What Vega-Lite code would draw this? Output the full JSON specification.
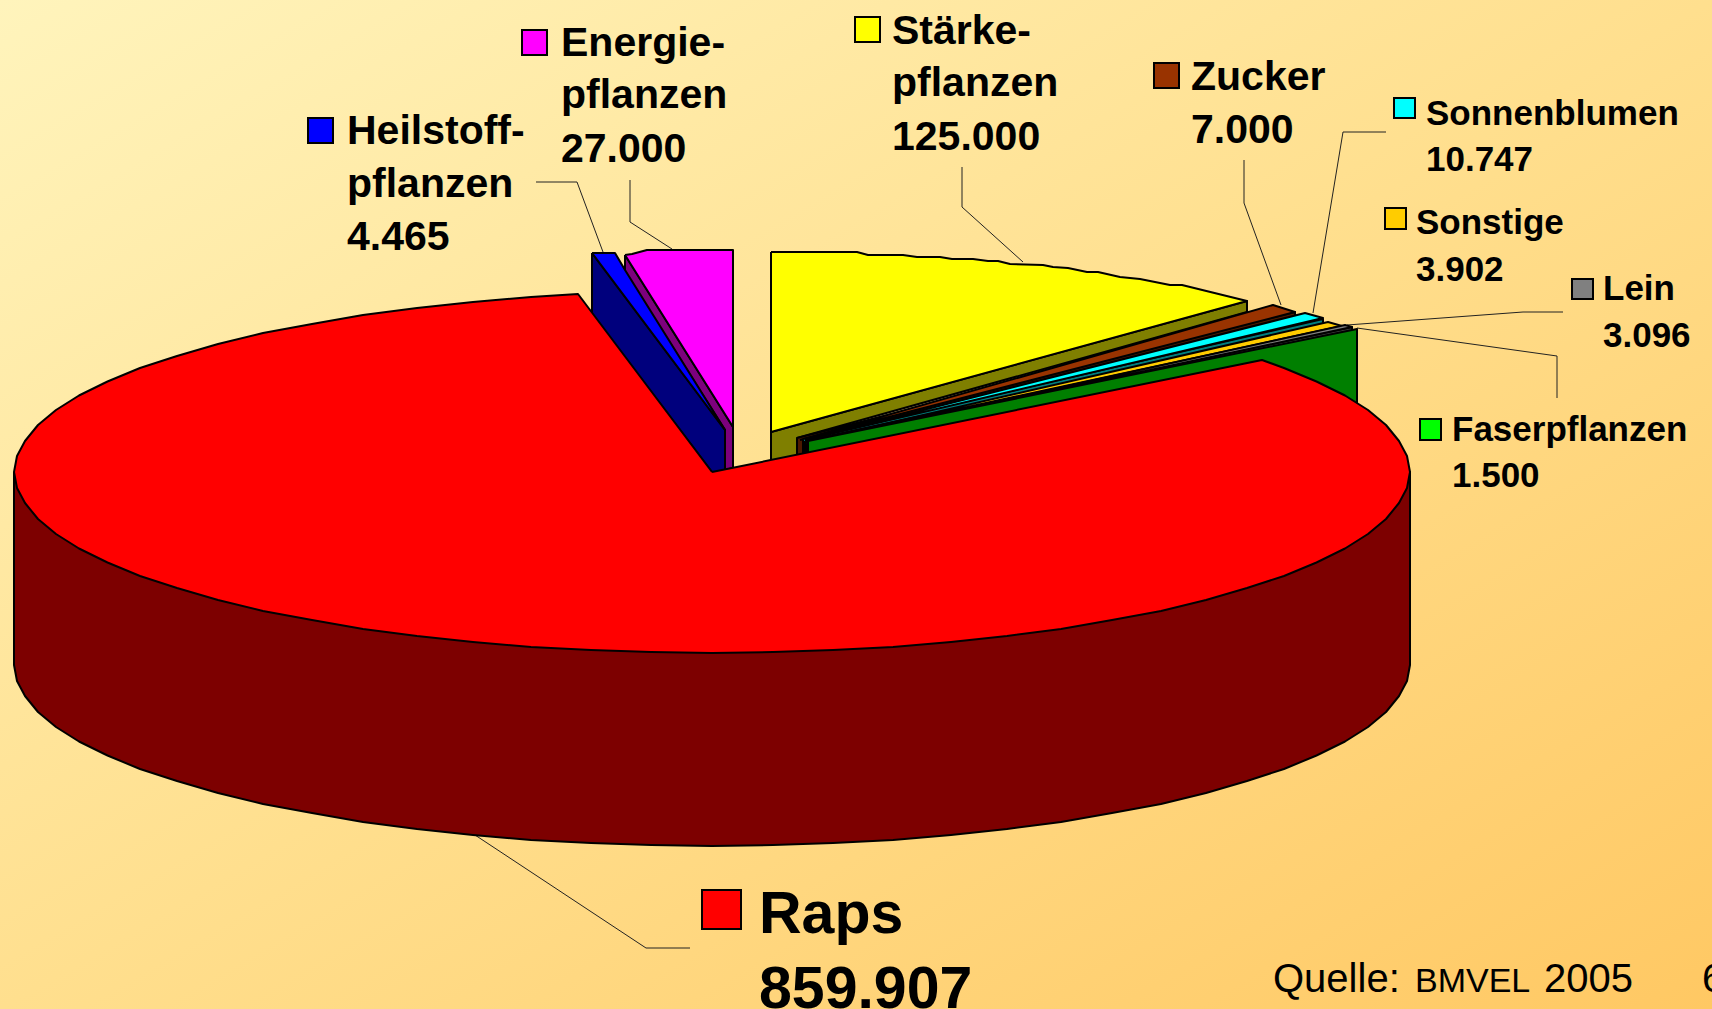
{"$schema":"https://vega.github.io/schema/vega-lite/v6.json","width":1712,"height":1009,"padding":0,"autosize":{"type":"none"},
"datasets":{
"frame":[{"x":0,"x2":1712,"y":0,"y2":1009}],
"keys":[
{"slice":"Raps","value":859907,"x":702,"x2":741,"y":890,"y2":929},
{"slice":"Heilstoffpflanzen","value":4465,"x":308,"x2":333,"y":118,"y2":143},
{"slice":"Energiepflanzen","value":27000,"x":522,"x2":547,"y":30,"y2":55},
{"slice":"Stärkepflanzen","value":125000,"x":855,"x2":880,"y":17,"y2":42},
{"slice":"Zucker","value":7000,"x":1154,"x2":1179,"y":63,"y2":88},
{"slice":"Sonnenblumen","value":10747,"x":1394,"x2":1415,"y":98,"y2":118},
{"slice":"Sonstige","value":3902,"x":1385,"x2":1406,"y":208,"y2":229},
{"slice":"Lein","value":3096,"x":1572,"x2":1593,"y":279,"y2":299},
{"slice":"Faserpflanzen","value":1500,"x":1420,"x2":1441,"y":419,"y2":440}],
"labels":[
{"tier":"big","text":"Raps","x":759,"y":933},{"tier":"big","text":"859.907","x":759,"y":1008},
{"tier":"mid","text":"Heilstoff-","x":347,"y":144},{"tier":"mid","text":"pflanzen","x":347,"y":197},{"tier":"mid","text":"4.465","x":347,"y":250},
{"tier":"mid","text":"Energie-","x":561,"y":56},{"tier":"mid","text":"pflanzen","x":561,"y":108},{"tier":"mid","text":"27.000","x":561,"y":162},
{"tier":"mid","text":"Stärke-","x":892,"y":44},{"tier":"mid","text":"pflanzen","x":892,"y":96},{"tier":"mid","text":"125.000","x":892,"y":150},
{"tier":"mid","text":"Zucker","x":1191,"y":90},{"tier":"mid","text":"7.000","x":1191,"y":143},
{"tier":"small","text":"Sonnenblumen","x":1426,"y":125},{"tier":"small","text":"10.747","x":1426,"y":171},
{"tier":"small","text":"Sonstige","x":1416,"y":234},{"tier":"small","text":"3.902","x":1416,"y":281},
{"tier":"small","text":"Lein","x":1603,"y":300},{"tier":"small","text":"3.096","x":1603,"y":347},
{"tier":"small","text":"Faserpflanzen","x":1452,"y":441},{"tier":"small","text":"1.500","x":1452,"y":487},
{"tier":"src","text":"Quelle:","x":1273,"y":992},{"tier":"srcs","text":"BMVEL","x":1415,"y":992},{"tier":"src","text":"2005","x":1544,"y":992},{"tier":"src","text":"6","x":1702,"y":992}],
"leaders":[
{"l":"Heil","n":1,"x":536,"y":182},{"l":"Heil","n":2,"x":577,"y":182},{"l":"Heil","n":3,"x":603,"y":252},
{"l":"Ener","n":1,"x":630,"y":180},{"l":"Ener","n":2,"x":630,"y":222},{"l":"Ener","n":3,"x":672,"y":249},
{"l":"Staerke","n":1,"x":962,"y":167},{"l":"Staerke","n":2,"x":962,"y":207},{"l":"Staerke","n":3,"x":1023,"y":262},
{"l":"Zucker","n":1,"x":1244,"y":160},{"l":"Zucker","n":2,"x":1244,"y":203},{"l":"Zucker","n":3,"x":1281,"y":305},
{"l":"Sonne","n":1,"x":1386,"y":132},{"l":"Sonne","n":2,"x":1343,"y":132},{"l":"Sonne","n":3,"x":1313,"y":313},
{"l":"Lein","n":1,"x":1563,"y":312},{"l":"Lein","n":2,"x":1523,"y":312},{"l":"Lein","n":3,"x":1347,"y":325},
{"l":"Faser","n":1,"x":1557,"y":398},{"l":"Faser","n":2,"x":1557,"y":356},{"l":"Faser","n":3,"x":1357,"y":328},
{"l":"Raps","n":1,"x":475,"y":835},{"l":"Raps","n":2,"x":646,"y":948},{"l":"Raps","n":3,"x":690,"y":948}],
"faces":[
{"part":"Energiepflanzen Wand","n":1,"x":625,"y":255},{"part":"Energiepflanzen Wand","n":2,"x":733,"y":427},{"part":"Energiepflanzen Wand","n":3,"x":733,"y":468},{"part":"Energiepflanzen Wand","n":4,"x":725,"y":470},{"part":"Energiepflanzen Wand","n":5,"x":725,"y":430},{"part":"Energiepflanzen Wand","n":6,"x":625,"y":272},{"part":"Energiepflanzen Wand","n":7,"x":625,"y":255},
{"part":"Energiepflanzen","n":1,"x":625,"y":255},{"part":"Energiepflanzen","n":2,"x":632,"y":254},{"part":"Energiepflanzen","n":3,"x":647,"y":250},{"part":"Energiepflanzen","n":4,"x":733,"y":250},{"part":"Energiepflanzen","n":5,"x":733,"y":427},{"part":"Energiepflanzen","n":6,"x":625,"y":255},
{"part":"Heilstoffpflanzen Wand","n":1,"x":592,"y":253},{"part":"Heilstoffpflanzen Wand","n":2,"x":725,"y":430},{"part":"Heilstoffpflanzen Wand","n":3,"x":725,"y":475},{"part":"Heilstoffpflanzen Wand","n":4,"x":712,"y":472},{"part":"Heilstoffpflanzen Wand","n":5,"x":592,"y":314},{"part":"Heilstoffpflanzen Wand","n":6,"x":592,"y":253},
{"part":"Heilstoffpflanzen","n":1,"x":592,"y":253},{"part":"Heilstoffpflanzen","n":2,"x":615,"y":253},{"part":"Heilstoffpflanzen","n":3,"x":625,"y":270},{"part":"Heilstoffpflanzen","n":4,"x":725,"y":430},{"part":"Heilstoffpflanzen","n":5,"x":592,"y":253},
{"part":"Stärkepflanzen Wand","n":1,"x":771,"y":432},{"part":"Stärkepflanzen Wand","n":2,"x":1247,"y":301},{"part":"Stärkepflanzen Wand","n":3,"x":1247,"y":312},{"part":"Stärkepflanzen Wand","n":4,"x":797,"y":438},{"part":"Stärkepflanzen Wand","n":5,"x":797,"y":458},{"part":"Stärkepflanzen Wand","n":6,"x":771,"y":462},{"part":"Stärkepflanzen Wand","n":7,"x":771,"y":432},
{"part":"Stärkepflanzen","n":1,"x":771,"y":252},{"part":"Stärkepflanzen","n":2,"x":857,"y":252},{"part":"Stärkepflanzen","n":3,"x":868,"y":255},{"part":"Stärkepflanzen","n":4,"x":903,"y":255},{"part":"Stärkepflanzen","n":5,"x":917,"y":257},{"part":"Stärkepflanzen","n":6,"x":940,"y":257},{"part":"Stärkepflanzen","n":7,"x":952,"y":259},{"part":"Stärkepflanzen","n":8,"x":973,"y":259},{"part":"Stärkepflanzen","n":9,"x":988,"y":261},{"part":"Stärkepflanzen","n":10,"x":998,"y":261},{"part":"Stärkepflanzen","n":11,"x":1010,"y":264},{"part":"Stärkepflanzen","n":12,"x":1043,"y":265},{"part":"Stärkepflanzen","n":13,"x":1053,"y":267},{"part":"Stärkepflanzen","n":14,"x":1068,"y":268},{"part":"Stärkepflanzen","n":15,"x":1087,"y":272},{"part":"Stärkepflanzen","n":16,"x":1098,"y":272},{"part":"Stärkepflanzen","n":17,"x":1120,"y":277},{"part":"Stärkepflanzen","n":18,"x":1140,"y":279},{"part":"Stärkepflanzen","n":19,"x":1170,"y":285},{"part":"Stärkepflanzen","n":20,"x":1182,"y":285},{"part":"Stärkepflanzen","n":21,"x":1247,"y":301},{"part":"Stärkepflanzen","n":22,"x":771,"y":432},{"part":"Stärkepflanzen","n":23,"x":771,"y":252},
{"part":"Zucker Wand","n":1,"x":797,"y":438},{"part":"Zucker Wand","n":2,"x":1295,"y":312},{"part":"Zucker Wand","n":3,"x":1295,"y":322},{"part":"Zucker Wand","n":4,"x":800,"y":456},{"part":"Zucker Wand","n":5,"x":797,"y":456},{"part":"Zucker Wand","n":6,"x":797,"y":438},
{"part":"Zucker","n":1,"x":800,"y":440},{"part":"Zucker","n":2,"x":1273,"y":305},{"part":"Zucker","n":3,"x":1295,"y":312},{"part":"Zucker","n":4,"x":800,"y":440},
{"part":"Sonnenblumen Wand","n":1,"x":803,"y":439},{"part":"Sonnenblumen Wand","n":2,"x":1323,"y":319},{"part":"Sonnenblumen Wand","n":3,"x":1323,"y":325},{"part":"Sonnenblumen Wand","n":4,"x":803,"y":456},{"part":"Sonnenblumen Wand","n":5,"x":803,"y":439},
{"part":"Sonnenblumen","n":1,"x":805,"y":440},{"part":"Sonnenblumen","n":2,"x":1305,"y":313},{"part":"Sonnenblumen","n":3,"x":1323,"y":318},{"part":"Sonnenblumen","n":4,"x":805,"y":440},
{"part":"Sonstige Wand","n":1,"x":805,"y":441},{"part":"Sonstige Wand","n":2,"x":1342,"y":326},{"part":"Sonstige Wand","n":3,"x":1342,"y":330},{"part":"Sonstige Wand","n":4,"x":805,"y":456},{"part":"Sonstige Wand","n":5,"x":805,"y":441},
{"part":"Sonstige","n":1,"x":806,"y":442},{"part":"Sonstige","n":2,"x":1328,"y":322},{"part":"Sonstige","n":3,"x":1342,"y":326},{"part":"Sonstige","n":4,"x":806,"y":442},
{"part":"Lein Wand","n":1,"x":806,"y":443},{"part":"Lein Wand","n":2,"x":1352,"y":327},{"part":"Lein Wand","n":3,"x":1352,"y":331},{"part":"Lein Wand","n":4,"x":806,"y":456},{"part":"Lein Wand","n":5,"x":806,"y":443},
{"part":"Lein","n":1,"x":807,"y":443},{"part":"Lein","n":2,"x":1345,"y":325},{"part":"Lein","n":3,"x":1352,"y":327},{"part":"Lein","n":4,"x":807,"y":443},
{"part":"Faserpflanzen Wand","n":1,"x":808,"y":441},{"part":"Faserpflanzen Wand","n":2,"x":1357,"y":329},{"part":"Faserpflanzen Wand","n":3,"x":1357,"y":420},{"part":"Faserpflanzen Wand","n":4,"x":808,"y":470},{"part":"Faserpflanzen Wand","n":5,"x":808,"y":441},
{"part":"Raps Wand","n":1,"x":14,"y":472},{"part":"Raps Wand","n":2,"x":14,"y":665},{"part":"Raps Wand","n":3,"x":17,"y":681},{"part":"Raps Wand","n":4,"x":25,"y":696},{"part":"Raps Wand","n":5,"x":38,"y":712},{"part":"Raps Wand","n":6,"x":56,"y":727},{"part":"Raps Wand","n":7,"x":79,"y":741.5},{"part":"Raps Wand","n":8,"x":107.5,"y":755.5},{"part":"Raps Wand","n":9,"x":140,"y":769},{"part":"Raps Wand","n":10,"x":177,"y":781},{"part":"Raps Wand","n":11,"x":218,"y":793},{"part":"Raps Wand","n":12,"x":263,"y":804},{"part":"Raps Wand","n":13,"x":312,"y":813},{"part":"Raps Wand","n":14,"x":363,"y":822},{"part":"Raps Wand","n":15,"x":417,"y":829},{"part":"Raps Wand","n":16,"x":473,"y":835},{"part":"Raps Wand","n":17,"x":531,"y":840},{"part":"Raps Wand","n":18,"x":591,"y":843},{"part":"Raps Wand","n":19,"x":651,"y":845},{"part":"Raps Wand","n":20,"x":712,"y":846},{"part":"Raps Wand","n":21,"x":773,"y":845},{"part":"Raps Wand","n":22,"x":833,"y":843},{"part":"Raps Wand","n":23,"x":893,"y":840},{"part":"Raps Wand","n":24,"x":951,"y":835},{"part":"Raps Wand","n":25,"x":1007,"y":829},{"part":"Raps Wand","n":26,"x":1061,"y":822},{"part":"Raps Wand","n":27,"x":1112,"y":813},{"part":"Raps Wand","n":28,"x":1161,"y":804},{"part":"Raps Wand","n":29,"x":1206,"y":793},{"part":"Raps Wand","n":30,"x":1247,"y":781},{"part":"Raps Wand","n":31,"x":1284,"y":769},{"part":"Raps Wand","n":32,"x":1316.5,"y":755.5},{"part":"Raps Wand","n":33,"x":1345,"y":741.5},{"part":"Raps Wand","n":34,"x":1368,"y":727},{"part":"Raps Wand","n":35,"x":1386,"y":712},{"part":"Raps Wand","n":36,"x":1399,"y":696},{"part":"Raps Wand","n":37,"x":1407,"y":681},{"part":"Raps Wand","n":38,"x":1410,"y":665},{"part":"Raps Wand","n":39,"x":1410,"y":472},{"part":"Raps Wand","n":40,"x":14,"y":472},
{"part":"Raps","n":1,"x":712,"y":472},{"part":"Raps","n":2,"x":1262,"y":360},{"part":"Raps","n":3,"x":1284,"y":368},{"part":"Raps","n":4,"x":1316.5,"y":381.5},{"part":"Raps","n":5,"x":1345,"y":395.5},{"part":"Raps","n":6,"x":1368,"y":410},{"part":"Raps","n":7,"x":1386,"y":425},{"part":"Raps","n":8,"x":1399,"y":441},{"part":"Raps","n":9,"x":1407,"y":456},{"part":"Raps","n":10,"x":1410,"y":472},{"part":"Raps","n":11,"x":1407,"y":488},{"part":"Raps","n":12,"x":1399,"y":503},{"part":"Raps","n":13,"x":1386,"y":519},{"part":"Raps","n":14,"x":1368,"y":534},{"part":"Raps","n":15,"x":1345,"y":548.5},{"part":"Raps","n":16,"x":1316.5,"y":562.5},{"part":"Raps","n":17,"x":1284,"y":576},{"part":"Raps","n":18,"x":1247,"y":588},{"part":"Raps","n":19,"x":1206,"y":600},{"part":"Raps","n":20,"x":1161,"y":611},{"part":"Raps","n":21,"x":1112,"y":620},{"part":"Raps","n":22,"x":1061,"y":629},{"part":"Raps","n":23,"x":1007,"y":636},{"part":"Raps","n":24,"x":951,"y":642},{"part":"Raps","n":25,"x":893,"y":647},{"part":"Raps","n":26,"x":833,"y":650},{"part":"Raps","n":27,"x":773,"y":652},{"part":"Raps","n":28,"x":712,"y":653},{"part":"Raps","n":29,"x":651,"y":652},{"part":"Raps","n":30,"x":591,"y":650},{"part":"Raps","n":31,"x":531,"y":647},{"part":"Raps","n":32,"x":473,"y":642},{"part":"Raps","n":33,"x":417,"y":636},{"part":"Raps","n":34,"x":363,"y":629},{"part":"Raps","n":35,"x":312,"y":620},{"part":"Raps","n":36,"x":263,"y":611},{"part":"Raps","n":37,"x":218,"y":600},{"part":"Raps","n":38,"x":177,"y":588},{"part":"Raps","n":39,"x":140,"y":576},{"part":"Raps","n":40,"x":107.5,"y":562.5},{"part":"Raps","n":41,"x":79,"y":548.5},{"part":"Raps","n":42,"x":56,"y":534},{"part":"Raps","n":43,"x":38,"y":519},{"part":"Raps","n":44,"x":25,"y":503},{"part":"Raps","n":45,"x":17,"y":488},{"part":"Raps","n":46,"x":14,"y":472},{"part":"Raps","n":47,"x":17,"y":456},{"part":"Raps","n":48,"x":25,"y":441},{"part":"Raps","n":49,"x":38,"y":425},{"part":"Raps","n":50,"x":56,"y":410},{"part":"Raps","n":51,"x":79,"y":395.5},{"part":"Raps","n":52,"x":107.5,"y":381.5},{"part":"Raps","n":53,"x":140,"y":368},{"part":"Raps","n":54,"x":177,"y":356},{"part":"Raps","n":55,"x":218,"y":344},{"part":"Raps","n":56,"x":263,"y":333},{"part":"Raps","n":57,"x":312,"y":324},{"part":"Raps","n":58,"x":363,"y":315},{"part":"Raps","n":59,"x":417,"y":308},{"part":"Raps","n":60,"x":473,"y":302},{"part":"Raps","n":61,"x":531,"y":297},{"part":"Raps","n":62,"x":578,"y":294},{"part":"Raps","n":63,"x":712,"y":472}
]},
"resolve":{"scale":{"fill":"shared"}},
"layer":[
{"data":{"name":"frame"},"mark":{"type":"rect","fill":{"gradient":"linear","x1":0,"y1":0,"x2":1,"y2":1,"stops":[{"offset":0,"color":"#FFF4BC"},{"offset":0.5,"color":"#FFDF8E"},{"offset":1,"color":"#FFC863"}]}},
"encoding":{"x":{"field":"x","type":"quantitative","axis":null,"scale":{"domain":[0,1712],"range":[0,1712],"nice":false}},"x2":{"field":"x2"},"y":{"field":"y","type":"quantitative","axis":null,"scale":{"domain":[0,1009],"range":[0,1009],"nice":false}},"y2":{"field":"y2"}}},
{"data":{"name":"leaders"},"mark":{"type":"line","stroke":"#222222","strokeWidth":1},
"encoding":{"x":{"field":"x","type":"quantitative"},"y":{"field":"y","type":"quantitative"},"detail":{"field":"l"},"order":{"field":"n","type":"quantitative"}}},
{"data":{"name":"faces"},"mark":{"type":"line","stroke":"black","strokeWidth":2,"strokeJoin":"round"},
"encoding":{"x":{"field":"x","type":"quantitative"},"y":{"field":"y","type":"quantitative"},"detail":{"field":"part"},"order":{"field":"n","type":"quantitative"},
"fill":{"field":"part","type":"nominal","legend":null,"scale":{"domain":["Raps","Raps Wand","Heilstoffpflanzen","Heilstoffpflanzen Wand","Energiepflanzen","Energiepflanzen Wand","Stärkepflanzen","Stärkepflanzen Wand","Zucker","Zucker Wand","Sonnenblumen","Sonnenblumen Wand","Sonstige","Sonstige Wand","Lein","Lein Wand","Faserpflanzen","Faserpflanzen Wand"],"range":["#FF0000","#7D0000","#0000FF","#00007D","#FF00FF","#7D007D","#FFFF00","#7F7F00","#993300","#4D1A00","#00FFFF","#007F7F","#FFCC00","#7F6600","#808080","#404040","#00FF00","#007F00"]}}}},
{"data":{"name":"keys"},"mark":{"type":"rect","stroke":"black","strokeWidth":2},
"encoding":{"x":{"field":"x","type":"quantitative"},"x2":{"field":"x2"},"y":{"field":"y","type":"quantitative"},"y2":{"field":"y2"},"fill":{"field":"slice","type":"nominal","legend":null}}},
{"data":{"name":"labels"},"transform":[{"filter":"datum.tier==='big'"}],"mark":{"type":"text","align":"left","baseline":"alphabetic","font":"Liberation Sans","fontWeight":"bold","fontSize":59,"fill":"black"},"encoding":{"x":{"field":"x","type":"quantitative"},"y":{"field":"y","type":"quantitative"},"text":{"field":"text"}}},
{"data":{"name":"labels"},"transform":[{"filter":"datum.tier==='mid'"}],"mark":{"type":"text","align":"left","baseline":"alphabetic","font":"Liberation Sans","fontWeight":"bold","fontSize":41,"fill":"black"},"encoding":{"x":{"field":"x","type":"quantitative"},"y":{"field":"y","type":"quantitative"},"text":{"field":"text"}}},
{"data":{"name":"labels"},"transform":[{"filter":"datum.tier==='small'"}],"mark":{"type":"text","align":"left","baseline":"alphabetic","font":"Liberation Sans","fontWeight":"bold","fontSize":35,"fill":"black"},"encoding":{"x":{"field":"x","type":"quantitative"},"y":{"field":"y","type":"quantitative"},"text":{"field":"text"}}},
{"data":{"name":"labels"},"transform":[{"filter":"datum.tier==='src'"}],"mark":{"type":"text","align":"left","baseline":"alphabetic","font":"Liberation Sans","fontSize":40,"fill":"black"},"encoding":{"x":{"field":"x","type":"quantitative"},"y":{"field":"y","type":"quantitative"},"text":{"field":"text"}}},
{"data":{"name":"labels"},"transform":[{"filter":"datum.tier==='srcs'"}],"mark":{"type":"text","align":"left","baseline":"alphabetic","font":"Liberation Sans","fontSize":34,"fill":"black"},"encoding":{"x":{"field":"x","type":"quantitative"},"y":{"field":"y","type":"quantitative"},"text":{"field":"text"}}}
]}
